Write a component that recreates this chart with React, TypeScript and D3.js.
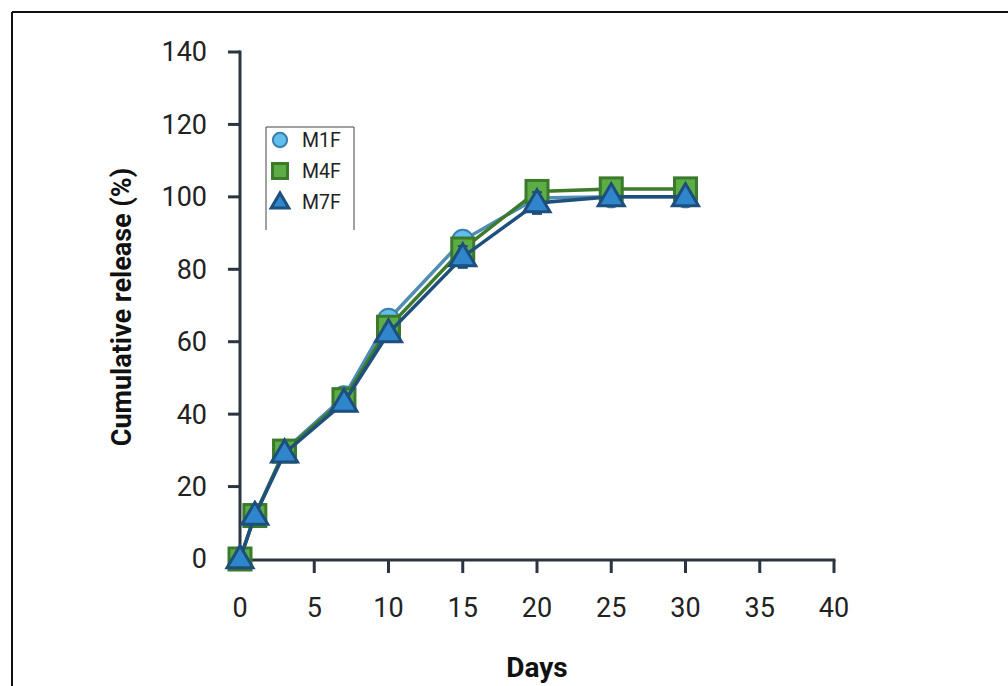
import React from "react";
import * as d3 from "d3";

const days = [0, 1, 3, 7, 10, 15, 20, 25, 30];
const m1f = [0, 12, 30, 44.8, 66.2, 88, 99.7, 100, 100];
const m1fErr = [0, 0.8, 1, 1, 1.5, 2.5, 1, 0.5, 0.5];
const m4f = [0, 12, 29.8, 44, 64, 85.6, 101.5, 102.2, 102.2];
const m4fErr = [0, 0.8, 1, 1, 1.5, 2, 1.5, 0.5, 0.5];
const m7f = [0, 12, 29.2, 43.2, 62.4, 83.4, 98.3, 100, 100];
const m7fErr = [0, 0.8, 1, 1, 2, 3, 3, 0.5, 0.5];
const xTicks = [0, 5, 10, 15, 20, 25, 30, 35, 40];
const yTicks = [0, 20, 40, 60, 80, 100, 120, 140];
const seriesNames = ["M1F", "M4F", "M7F"];

const x = d3.scaleLinear().domain([0, 40]).range([240, 834]);
const y = d3.scaleLinear().domain([0, 140]).range([559, 52]);

const styles = [
  { line: "#4f8db5", fill: "#62bdf0", stroke: "#3a7fa8", shape: "circle" },
  { line: "#3d7a2c", fill: "#5cad45", stroke: "#3a7a2a", shape: "square" },
  { line: "#1f4f7c", fill: "#2f86cc", stroke: "#1e4f7c", shape: "triangle" },
];

function Marker({ shape, cx, cy, fill, stroke, s }: any) {
  if (shape === "circle")
    return <circle cx={cx} cy={cy} r={10.5 * s} fill={fill} stroke={stroke} strokeWidth={2} />;
  if (shape === "square")
    return (
      <rect x={cx - 11 * s} y={cy - 11 * s} width={22 * s} height={22 * s} fill={fill} stroke={stroke} strokeWidth={3} />
    );
  const h = 22 * s;
  const w = 26 * s;
  const pts = `${cx},${cy - h * 0.6} ${cx + w / 2},${cy + h * 0.4} ${cx - w / 2},${cy + h * 0.4}`;
  return <polygon points={pts} fill={fill} stroke={stroke} strokeWidth={3} strokeLinejoin="miter" />;
}

export default function App() {
  const data = [m1f, m4f, m7f];
  const errs = [m1fErr, m4fErr, m7fErr];
  const line = d3
    .line<number>()
    .x((_, i) => x(days[i]))
    .y((d) => y(d));
  const axisColor = "#2b3440";
  const font = "Roboto, 'Noto Sans', sans-serif";
  return (
    <svg
      width={1008}
      height={686}
      style={{ position: "absolute", left: 0, top: 0, background: "#fff" }}
      fontFamily={font}
    >
      {/* frame */}
      <line x1={12} y1={12} x2={1008} y2={12} stroke="#111" strokeWidth={2} />
      <line x1={12} y1={12} x2={12} y2={686} stroke="#111" strokeWidth={2} />

      {/* y axis */}
      <line x1={240} y1={y(140) - 1.5} x2={240} y2={y(0) + 1.5} stroke={axisColor} strokeWidth={3} />
      {yTicks.map((t) => (
        <g key={"y" + t}>
          <line x1={228} x2={240} y1={y(t)} y2={y(t)} stroke={axisColor} strokeWidth={3} />
          <text x={207} y={y(t)} dy="0.35em" textAnchor="end" fontSize={27} fill="#222">
            {t}
          </text>
        </g>
      ))}
      {/* x axis */}
      <line x1={240} y1={560} x2={x(40) + 1.5} y2={560} stroke={axisColor} strokeWidth={3} />
      {xTicks.map((t) => (
        <g key={"x" + t}>
          {t > 0 && <line x1={x(t)} x2={x(t)} y1={560} y2={573} stroke={axisColor} strokeWidth={3} />}
          <text x={x(t)} y={617} textAnchor="middle" fontSize={27} fill="#222">
            {t}
          </text>
        </g>
      ))}

      <text
        transform={`translate(131,307) rotate(-90)`}
        textAnchor="middle"
        fontSize={27}
        fontWeight="bold"
        fill="#111"
      >
        Cumulative release (%)
      </text>
      <text x={537} y={677} textAnchor="middle" fontSize={28} fontWeight="bold" fill="#111">
        Days
      </text>

      {/* series */}
      {data.map((vals, si) => {
        const st = styles[si];
        return (
          <g key={"s" + si}>
            <path d={line(vals) || ""} fill="none" stroke={st.line} strokeWidth={3.5} />
            {vals.map((v, i) =>
              errs[si][i] > 0 ? (
                <g key={"e" + i} stroke={st.stroke} strokeWidth={2}>
                  <line x1={x(days[i])} x2={x(days[i])} y1={y(v - errs[si][i])} y2={y(v + errs[si][i])} />
                  <line x1={x(days[i]) - 5} x2={x(days[i]) + 5} y1={y(v - errs[si][i])} y2={y(v - errs[si][i])} />
                  <line x1={x(days[i]) - 5} x2={x(days[i]) + 5} y1={y(v + errs[si][i])} y2={y(v + errs[si][i])} />
                </g>
              ) : null
            )}
            {vals.map((v, i) => (
              <Marker key={"m" + i} shape={st.shape} cx={x(days[i])} cy={y(v)} fill={st.fill} stroke={st.stroke} s={1} />
            ))}
          </g>
        );
      })}

      {/* legend */}
      <path d="M266,230 V127 H354 V230" fill="none" stroke="#444" strokeWidth={1} />
      {seriesNames.map((n, i) => {
        const st = styles[i];
        const cy = 140 + i * 31;
        return (
          <g key={n}>
            <Marker shape={st.shape} cx={280} cy={cy} fill={st.fill} stroke={st.stroke} s={0.68} />
            <text x={302} y={cy} dy="0.36em" fontSize={19.5} fill="#222">
              {n}
            </text>
          </g>
        );
      })}
    </svg>
  );
}
